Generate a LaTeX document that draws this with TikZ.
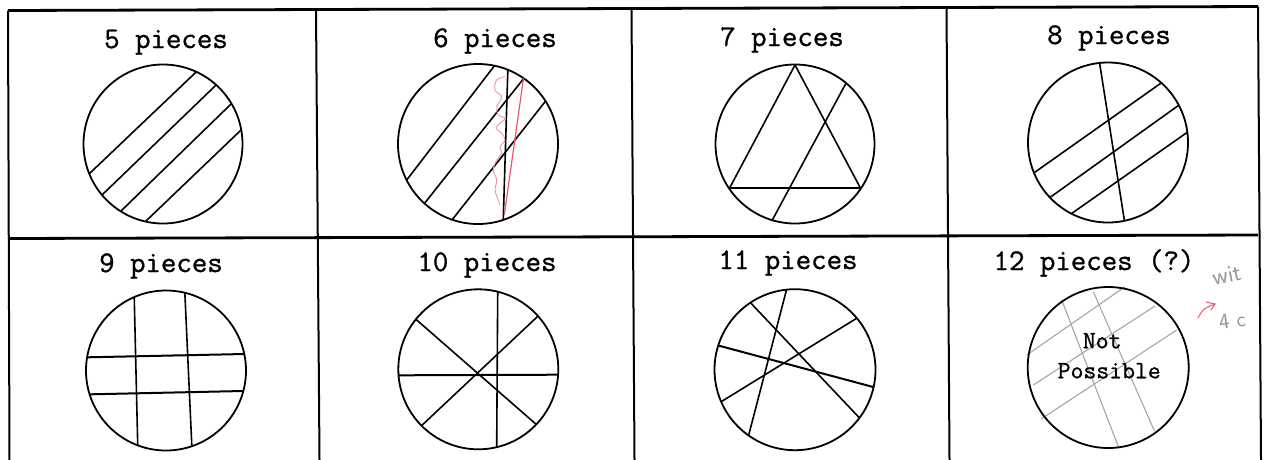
\documentclass[tikz,border=0pt]{standalone}
\usepackage{fontspec}
\newfontfamily\twfont{Latin Modern Mono}[FakeBold=1.0]
\usetikzlibrary{calc}
\definecolor{pencil}{RGB}{165,165,165}
\definecolor{redpen}{RGB}{232,88,108}
\definecolor{pinkpen}{RGB}{240,150,160}
\definecolor{handgray}{RGB}{150,150,150}
\tikzset{
  vline/.style={line width=2pt, black},
  hline/.style={line width=2.8pt, black},
  disk/.style={line width=1.8pt, black},
  chord/.style={line width=1.6pt, black, shorten <=-8pt, shorten >=-8pt},
  title/.style={font=\twfont\fontsize{30}{30}\selectfont, anchor=base, inner sep=0pt},
  note/.style={font=\twfont\fontsize{25}{25}\selectfont, anchor=base, inner sep=0pt},
  pencilline/.style={line width=1.1pt, pencil},
}
\begin{document}
\begin{tikzpicture}[x=1pt,y=-1pt]
\useasboundingbox (0,0) rectangle (1265,459);
\clip (0,0) rectangle (1265,459);

% ---------- grid ----------
\coordinate (tl) at (8,10.5);
\coordinate (tr) at (1258,6.5);
\coordinate (ml) at (8,238.5);
\coordinate (mr) at (1258,235);
\draw[hline] (tl) -- (tr);
\draw[hline] (ml) -- (mr);
\coordinate (v0t) at (8,10.5);    \coordinate (v0b) at (9.5,460);
\coordinate (v1t) at (316,9.5);   \coordinate (v1b) at (319.5,460);
\coordinate (v2t) at (631.5,8.5); \coordinate (v2b) at (634.5,460);
\coordinate (v3t) at (946.5,7.5); \coordinate (v3b) at (949.5,460);
\coordinate (v4t) at (1258,6.5);  \coordinate (v4b) at (1261,460);
\draw[vline] (v0t) -- (v0b);
\draw[vline] (v1t) -- (v1b);
\draw[vline] (v2t) -- (v2b);
\draw[vline] (v3t) -- (v3b);
\draw[vline] (v4t) -- (v4b);

% ---------- titles ----------
\node[title] (t5) at (166,48) {5 pieces};
\node[title] (t6) at (495,47) {6 pieces};
\node[title] (t7) at (782,46) {7 pieces};
\node[title] (t8) at (1109,44) {8 pieces};
\node[title] (t9) at (161,272) {9 pieces};
\node[title] (t10) at (487,271) {10 pieces};
\node[title] (t11) at (788,269) {11 pieces};
\node[title] (t12) at (1094,270) {12 pieces (?)};

% ---------- cell 1: 5 pieces ----------
\coordinate (c1) at (163,144);
\begin{scope}
  \clip (c1) circle[radius=79.5pt];
  \draw[chord] (193,75) -- (89,174);
  \draw[chord] (213,88) -- (102,195);
  \draw[chord] (229,106) -- (121,211);
  \draw[chord] (240,131) -- (146,221);
\end{scope}
\draw[disk] (c1) circle[radius=79.5pt];

% ---------- cell 2: 6 pieces ----------
\coordinate (c2) at (478,144);
\begin{scope}
  \clip (c2) circle[radius=80pt];
  \draw[chord] (491.7,69.3) -- (406.7,180);
  \draw[chord] (521.7,81) -- (425,202.7);
  \draw[chord] (543.3,104) -- (453.3,218.3);
  \draw[chord] (507.7,74) -- (503.3,218.3);
\end{scope}
\draw[disk] (c2) circle[radius=80pt];
\coordinate (r1) at (523.5,78);
\coordinate (r2) at (504.3,215);
\draw[redpen, line width=1.2pt] (r1) -- (r2);
\draw[pinkpen, line width=0.9pt] plot[smooth, tension=0.6] coordinates {
  (505,76.7) (496.7,80) (495,90) (501.7,96.7) (496.7,106.7) (498.3,115)
  (505,118.3) (500,123.3) (496,128.3) (501.7,133.3) (505,140) (500,146.7)
  (501.7,153.3) (496.7,160) (493.3,170) (496.7,180) (495,190) (498.3,200) (500,205)};

% ---------- cell 3: 7 pieces ----------
\coordinate (c3) at (795,144);
\coordinate (ta) at (795,65);
\coordinate (tb) at (729.5,188.2);
\coordinate (tc) at (860.5,188.2);
\begin{scope}
  \clip (c3) circle[radius=79.5pt];
  \draw[chord] (ta) -- (tb);
  \draw[chord] (ta) -- (tc);
  \draw[chord, line width=2pt] (tb) -- (tc);
  \draw[chord] (845,85) -- (772.7,219.3);
\end{scope}
\draw[disk] (c3) circle[radius=79.5pt];

% ---------- cell 4: 8 pieces ----------
\coordinate (c4) at (1108,142.5);
\begin{scope}
  \clip (c4) circle[radius=80pt];
  \draw[chord] (1100,65.7) -- (1124.3,220);
  \draw[chord] (1158.3,85) -- (1032.3,174);
  \draw[chord] (1176.7,106.7) -- (1051,196.7);
  \draw[chord] (1186.7,132.7) -- (1073.3,212.3);
\end{scope}
\draw[disk] (c4) circle[radius=80pt];

% ---------- cell 5: 9 pieces ----------
\coordinate (c5) at (166,370.5);
\begin{scope}
  \clip (c5) circle[radius=80pt];
  \draw[chord] (134.3,300) -- (137.7,444);
  \draw[chord] (185,296) -- (191.7,443.3);
  \draw[chord, line width=2pt] (87.3,357.3) -- (244.3,354);
  \draw[chord, line width=2pt] (90.7,394.3) -- (242.7,391);
\end{scope}
\draw[disk] (c5) circle[radius=80pt];

% ---------- cell 6: 10 pieces ----------
\coordinate (c6) at (478.3,369.3);
\begin{scope}
  \clip (c6) circle[radius=80pt];
  \draw[chord, line width=2pt] (398.3,375.3) -- (557.3,374.7);
  \draw[chord] (497.7,295) -- (496.7,444);
  \draw[chord] (416.7,320) -- (535,423.3);
  \draw[chord] (536.7,317.3) -- (423.3,424);
\end{scope}
\draw[disk] (c6) circle[radius=80pt];

% ---------- cell 7: 11 pieces ----------
\coordinate (c7) at (795,369.7);
\begin{scope}
  \clip (c7) circle[radius=80.5pt];
  \draw[chord] (786,291.7) -- (749.3,432.7);
  \draw[chord] (751.7,304) -- (858.3,416.7);
  \draw[chord] (855,319.3) -- (722.3,401);
  \draw[chord, line width=2pt] (719,345.7) -- (874.3,387.3);
\end{scope}
\draw[disk] (c7) circle[radius=80.5pt];

% ---------- cell 8: 12 pieces (?) ----------
\coordinate (c8) at (1108.2,367.5);
\coordinate (g1a) at (1061.7,300);  \coordinate (g1b) at (1119,448.3);
\coordinate (g2a) at (1093.3,291.7); \coordinate (g2b) at (1154.3,430.7);
\coordinate (g3a) at (1026.7,355);  \coordinate (g3b) at (1125,286.7);
\coordinate (g4a) at (1033.3,385);  \coordinate (g4b) at (1155,306);
\coordinate (g5a) at (1041,419);    \coordinate (g5b) at (1176.7,330);
\draw[pencilline] (g1a) -- (g1b);
\draw[pencilline] (g2a) -- (g2b);
\draw[pencilline] (g3a) -- (g3b);
\draw[pencilline] (g4a) -- (g4b);
\draw[pencilline] (g5a) -- (g5b);
\draw[disk] (c8) circle[radius=80.5pt];
\node[note] (np1) at (1102.2,348.3) {Not};
\node[note] (np2) at (1109.2,378.3) {Possible};

% ---------- handwritten margin note ----------
\node[handgray, font=\sffamily\fontsize{24}{24}\selectfont, anchor=base west, inner sep=0pt, rotate=12] (hw1) at (1214,286) {wit};
\node[handgray, font=\sffamily\fontsize{22}{22}\selectfont, anchor=base west, inner sep=0pt, rotate=8] (hw2) at (1220,330) {4 c};
\coordinate (pa) at (1198,318);
\coordinate (pb) at (1215,304);
\draw[redpen, line width=1pt, line cap=round] (pa) .. controls (1203,309) .. (pb);
\draw[redpen, line width=1pt, line cap=round] (1206,302) -- (pb) -- (1211,310);
\end{tikzpicture}
\end{document}
